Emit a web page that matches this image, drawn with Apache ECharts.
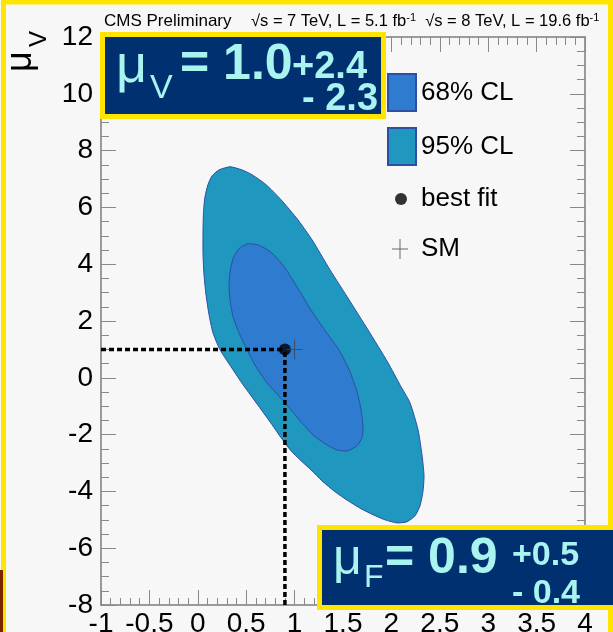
<!DOCTYPE html>
<html><head><meta charset="utf-8">
<script src="https://cdn.jsdelivr.net/npm/echarts@6/dist/echarts.min.js"></script>
<style>html,body{margin:0;padding:0;background:#f7f7f7}#c{width:613px;height:632px}</style>
</head><body><div id="c"></div>
<script>
// ---- data ----
const xTickLabels = ['-1','-0.5','0','0.5','1','1.5','2','2.5','3','3.5','4'];
const yTickLabels = ['-8','-6','-4','-2','0','2','4','6','8','10','12'];
const contour95 = [[0.333,7.43],[0.457,7.32],[0.560,7.15],[0.705,6.80],[0.860,6.27],[1.035,5.56],[1.180,4.86],[1.366,3.80],[1.562,2.75],[1.758,1.69],[1.965,0.53],[2.089,-0.25],[2.192,-0.88],[2.275,-1.83],[2.316,-2.71],[2.337,-3.45],[2.326,-4.01],[2.295,-4.51],[2.244,-4.86],[2.161,-5.07],[2.058,-5.11],[1.934,-5.00],[1.810,-4.82],[1.686,-4.61],[1.552,-4.33],[1.417,-4.01],[1.283,-3.63],[1.169,-3.24],[1.066,-2.92],[0.963,-2.57],[0.860,-2.11],[0.767,-1.65],[0.663,-1.16],[0.550,-0.63],[0.446,-0.14],[0.343,0.39],[0.229,0.99],[0.157,1.58],[0.116,2.22],[0.085,2.92],[0.064,3.63],[0.054,4.33],[0.054,5.21],[0.059,5.85],[0.074,6.37],[0.105,6.80],[0.147,7.11],[0.219,7.32]];
const contour68 = [[0.519,4.72],[0.622,4.68],[0.705,4.54],[0.787,4.33],[0.901,3.87],[1.025,3.20],[1.169,2.39],[1.324,1.62],[1.469,0.92],[1.572,0.21],[1.645,-0.49],[1.686,-1.13],[1.707,-1.73],[1.696,-2.11],[1.645,-2.39],[1.552,-2.57],[1.438,-2.54],[1.314,-2.32],[1.190,-2.01],[1.056,-1.51],[0.901,-0.88],[0.715,-0.18],[0.601,0.39],[0.508,0.99],[0.426,1.58],[0.364,2.15],[0.333,2.75],[0.322,3.20],[0.333,3.73],[0.364,4.19],[0.415,4.51],[0.467,4.65]];
const bestFit = [[0.9, 1.0]];
const smPoint = [[1.0, 1.0]];
const bestFitH = [[-1, 1.0],[0.9, 1.0]];
const bestFitV = [[0.9, -8],[0.9, 1.0]];

const FF = '"Liberation Sans", Arial, Helvetica, sans-serif';
const NAVY = '#00306f', YEL = '#ffe400', CYAN = '#aaf4f0';
const C95 = '#1f97bf', C68 = '#2e7bd0', EDGE = '#2c4fa3';
const crossPath = 'path://M0,9.5H16V10.5H0Z M7.5,0H8.5V20H7.5Z';

function poly(name, pts, fill) {
  return {
    type: 'custom', name: name, data: pts, encode: {x: 0, y: 1},
    itemStyle: {color: fill, borderColor: EDGE, borderWidth: 1},
    silent: true, z: 2,
    renderItem: function (params, api) {
      if (params.dataIndex !== 0) return;
      const points = pts.map(function (p) { return api.coord(p); });
      return {type: 'polygon', shape: {points: points, smooth: 0.2},
              style: {fill: fill, stroke: EDGE, lineWidth: 1}};
    }
  };
}

const axisCommon = {
  type: 'value',
  axisLine: {show: true, onZero: false, lineStyle: {color: '#9a9a9a', width: 2}},
  axisTick: {show: true, inside: true, length: 15, lineStyle: {color: '#888', width: 1}},
  splitLine: {show: false}
};

const chart = echarts.init(document.getElementById('c'), null, {renderer: 'canvas'});
chart.setOption({
  animation: false,
  backgroundColor: '#f7f7f7',
  textStyle: {fontFamily: FF},
  grid: {left: 101, right: 28, top: 37, bottom: 27, containLabel: false, outerBoundsMode: 'none'},
  xAxis: [
    Object.assign({}, axisCommon, {min: -1, max: 4, interval: 0.5, position: 'bottom',
      minorTick: {show: true, splitNumber: 5, length: 7, lineStyle: {color: '#888'}},
      axisLabel: {fontSize: 28, color: '#000', margin: 5, fontFamily: FF,
        formatter: function (v, i) { return xTickLabels[i]; }}}),
    Object.assign({}, axisCommon, {min: -1, max: 4, interval: 0.5, position: 'top',
      minorTick: {show: true, splitNumber: 5, length: 8, lineStyle: {color: '#888'}},
      axisLabel: {show: false}})
  ],
  yAxis: [
    Object.assign({}, axisCommon, {min: -8, max: 12, interval: 2, position: 'left',
      minorTick: {show: true, splitNumber: 4, length: 8, lineStyle: {color: '#888'}},
      axisLabel: {fontSize: 28, color: '#000', margin: 8, fontFamily: FF,
        formatter: function (v, i) { return yTickLabels[i]; }}}),
    Object.assign({}, axisCommon, {min: -8, max: 12, interval: 2, position: 'right',
      minorTick: {show: true, splitNumber: 4, length: 8, lineStyle: {color: '#888'}},
      axisLabel: {show: false}})
  ],
  legend: [
    {data: [{name: '68% CL', icon: 'rect'}, {name: '95% CL', icon: 'rect'}],
     orient: 'vertical', left: 387, top: 73, itemWidth: 28, itemHeight: 37, itemGap: 15,
     padding: 0, selectedMode: false, textStyle: {fontSize: 26, color: '#000', fontFamily: FF}},
    {data: [{name: 'best fit', icon: 'circle'}], left: 395, top: 186, itemWidth: 12, itemHeight: 12,
     padding: 0, selectedMode: false, textStyle: {fontSize: 26, color: '#000', fontFamily: FF, padding: [0,0,0,9]}},
    {data: [{name: 'SM', icon: crossPath}], left: 392, top: 236, itemWidth: 16, itemHeight: 20,
     padding: 0, selectedMode: false, textStyle: {fontSize: 26, color: '#000', fontFamily: FF, padding: [0,0,0,8]}}
  ],
  series: [
    poly('95% CL', contour95, C95),
    poly('68% CL', contour68, C68),
    {type: 'line', data: bestFitH, symbol: 'none', silent: true, z: 3,
     lineStyle: {color: '#000', width: 3.5, type: [5, 3]}},
    {type: 'line', data: bestFitV, symbol: 'none', silent: true, z: 3,
     lineStyle: {color: '#000', width: 3.5, type: [5, 3]}},
    {type: 'scatter', name: 'best fit', data: bestFit, symbol: 'circle', symbolSize: 12, z: 4,
     itemStyle: {color: '#000'}},
    {type: 'scatter', name: 'SM', data: smPoint, symbol: crossPath, symbolSize: [16, 20],
     symbolKeepAspect: false, z: 4, itemStyle: {color: '#444'}}
  ],
  graphic: [
    {type: 'rect', z: 50, shape: {x: 3.5, y: 2, width: 607, height: 700},
     style: {fill: 'none', stroke: YEL, lineWidth: 5}},
    {type: 'rect', z: 51, shape: {x: 0, y: 570, width: 3, height: 62}, style: {fill: '#7a2400'}},
    {type: 'text', z: 60, x: 104, y: 21, style: {text: 'CMS Preliminary', font: '17px ' + FF, fill: '#000', verticalAlign: 'middle'}},
    {type: 'text', z: 60, x: 251, y: 21, style: {
      text: '{a|√s = 7 TeV, L = 5.1 fb}{b|-1}{a|  √s = 8 TeV, L = 19.6 fb}{b|-1}',
      verticalAlign: 'middle',
      rich: {a: {fontSize: 16.5, fontFamily: FF, color: '#000'},
             b: {fontSize: 11, fontFamily: FF, color: '#000', verticalAlign: 'top'}}}},
    {type: 'text', z: 60, x: 39, y: 72, rotation: Math.PI / 2,
     style: {text: 'μ', font: '36px ' + FF, fill: '#000', verticalAlign: 'bottom', align: 'left'}},
    {type: 'text', z: 60, x: 51, y: 47, rotation: Math.PI / 2,
     style: {text: 'V', font: '24px ' + FF, fill: '#000', verticalAlign: 'bottom', align: 'left'}},
    {type: 'rect', z: 70, shape: {x: 102.5, y: 34.5, width: 281, height: 82},
     style: {fill: NAVY, stroke: YEL, lineWidth: 5}},
    {type: 'text', z: 71, x: 116, y: 67, style: {text: 'μ', font: '54px ' + FF, fill: CYAN, verticalAlign: 'middle'}},
    {type: 'text', z: 71, x: 150, y: 89, style: {text: 'V', font: '34px ' + FF, fill: CYAN, verticalAlign: 'middle'}},
    {type: 'text', z: 71, x: 180, y: 65, style: {text: '= 1.0', font: 'bold 50px ' + FF, fill: CYAN, verticalAlign: 'middle'}},
    {type: 'text', z: 71, x: 292, y: 68, style: {text: '+2.4', font: 'bold 38px ' + FF, fill: CYAN, verticalAlign: 'middle'}},
    {type: 'text', z: 71, x: 302, y: 100, style: {text: '- 2.3', font: 'bold 38px ' + FF, fill: CYAN, verticalAlign: 'middle'}},
    {type: 'rect', z: 70, shape: {x: 319.5, y: 527.5, width: 300, height: 80},
     style: {fill: NAVY, stroke: YEL, lineWidth: 5}},
    {type: 'text', z: 71, x: 333, y: 560, style: {text: 'μ', font: '50px ' + FF, fill: CYAN, verticalAlign: 'middle'}},
    {type: 'text', z: 71, x: 364, y: 578, style: {text: 'F', font: '32px ' + FF, fill: CYAN, verticalAlign: 'middle'}},
    {type: 'text', z: 71, x: 385, y: 559, style: {text: '= 0.9', font: 'bold 50px ' + FF, fill: CYAN, verticalAlign: 'middle'}},
    {type: 'text', z: 71, x: 512, y: 556, style: {text: '+0.5', font: 'bold 34px ' + FF, fill: CYAN, verticalAlign: 'middle'}},
    {type: 'text', z: 71, x: 512, y: 594, style: {text: '- 0.4', font: 'bold 34px ' + FF, fill: CYAN, verticalAlign: 'middle'}}
  ]
});
</script></body></html>
